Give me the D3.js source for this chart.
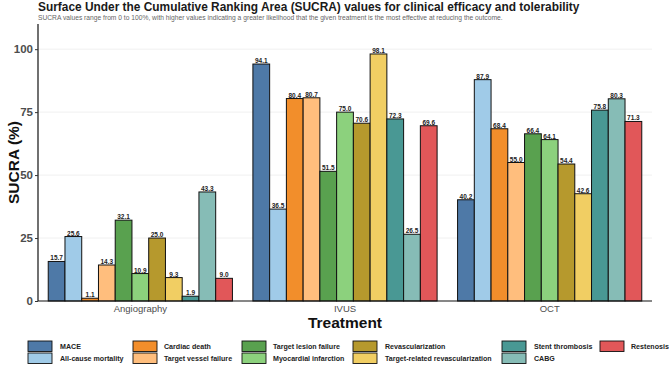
<!DOCTYPE html>
<html><head><meta charset="utf-8">
<script src="https://cdn.jsdelivr.net/npm/d3@7"></script>
<style>body{margin:0;background:#fff}svg{display:block;font-family:"Liberation Sans",Arial,sans-serif}</style>
</head><body><svg id="c" width="669" height="365"></svg>
<script>
const treatments = ["Angiography", "IVUS", "OCT"];
const outcomes = ["MACE", "All-cause mortality", "Cardiac death", "Target vessel failure", "Target lesion failure", "Myocardial infarction", "Revascularization", "Target-related revascularization", "Stent thrombosis", "CABG", "Restenosis"];
const angiography = [15.7, 25.6, 1.1, 14.3, 32.1, 10.9, 25.0, 9.3, 1.9, 43.3, 9.0];
const ivus = [94.1, 36.5, 80.4, 80.7, 51.5, 75.0, 70.6, 98.1, 72.3, 26.5, 69.6];
const oct = [40.2, 87.9, 68.4, 55.0, 66.4, 64.1, 54.4, 42.6, 75.8, 80.3, 71.3];
const colors = ["#4E79A7", "#A0CBE8", "#F28E2B", "#FFBE7D", "#59A14F", "#8CD17D", "#B6992D", "#F1CE63", "#499894", "#86BCB6", "#E15759"];
const yTicks = [0, 25, 50, 75, 100];

const values = {Angiography: angiography, IVUS: ivus, OCT: oct};
const svg = d3.select("#c");
const L = 38, R = 652, T = 24, B = 301;

const x0 = d3.scaleBand().domain(treatments).range([L, R]).paddingInner(0.1).paddingOuter(0.05);
const x1 = d3.scaleBand().domain(outcomes).range([0, x0.bandwidth()]).padding(0);
const y = d3.scaleLinear().domain([0, 110]).range([B, T]);
const color = d3.scaleOrdinal().domain(outcomes).range(colors);

// title
svg.append("text").attr("x", L).attr("y", 11).attr("font-size", 11.9).attr("font-weight", "bold").attr("fill", "#1a1a1a")
  .text("Surface Under the Cumulative Ranking Area (SUCRA) values for clinical efficacy and tolerability");
svg.append("text").attr("x", L).attr("y", 20).attr("font-size", 6.7).attr("fill", "#666")
  .text("SUCRA values range from 0 to 100%, with higher values indicating a greater likelihood that the given treatment is the most effective at reducing the outcome.");

// gridlines
svg.append("g").selectAll("line").data(yTicks.filter(d => d > 0)).join("line")
  .attr("x1", L).attr("x2", R).attr("y1", d => y(d)).attr("y2", d => y(d))
  .attr("stroke", "#ececec").attr("stroke-width", 0.8);

// bars
const rows = [];
treatments.forEach(t => outcomes.forEach((o, i) => rows.push({t, o, v: values[t][i]})));
const g = svg.append("g");
g.selectAll("rect").data(rows).join("rect")
  .attr("x", d => x0(d.t) + x1(d.o)).attr("width", x1.bandwidth())
  .attr("y", d => y(d.v)).attr("height", d => y(0) - y(d.v))
  .attr("fill", d => color(d.o)).attr("stroke", "#111").attr("stroke-width", 1);
g.selectAll("text").data(rows).join("text")
  .attr("x", d => x0(d.t) + x1(d.o) + x1.bandwidth() / 2).attr("y", d => y(d.v) - 1)
  .attr("text-anchor", "middle").attr("font-size", 6.5).attr("font-weight", "bold").attr("fill", "#222")
  .text(d => d.v.toFixed(1));

// y axis
const ya = svg.append("g").attr("transform", `translate(${L},0)`)
  .call(d3.axisLeft(y).tickValues(yTicks).tickSize(3).tickPadding(2));
ya.select(".domain").attr("d", `M0,${T}V${B}`).attr("stroke", "#111").attr("stroke-width", 1.2);
ya.selectAll(".tick line").attr("stroke", "#333");
ya.selectAll(".tick text").attr("font-size", 11.5).attr("font-weight", "bold").attr("fill", "#4d4d4d").attr("font-family", "Liberation Sans, Arial, sans-serif");

// x axis
const xa = svg.append("g").attr("transform", `translate(0,${B})`)
  .call(d3.axisBottom(x0).tickSize(0).tickPadding(4));
xa.select(".domain").attr("d", `M${L},0H${R}`).attr("stroke", "#111").attr("stroke-width", 1.2);
xa.selectAll(".tick text").attr("font-size", 9.5).attr("fill", "#4d4d4d").attr("font-family", "Liberation Sans, Arial, sans-serif");

// axis titles
svg.append("text").attr("x", (L + R) / 2).attr("y", 328).attr("text-anchor", "middle")
  .attr("font-size", 15.5).attr("font-weight", "bold").attr("fill", "#111").text("Treatment");
svg.append("text").attr("transform", `translate(19,${(T + B) / 2}) rotate(-90)`).attr("text-anchor", "middle")
  .attr("font-size", 15.5).attr("font-weight", "bold").attr("fill", "#111").text("SUCRA (%)");

// legend
const keyX = [28, 133, 242, 353, 502, 600];
const textX = [60, 164, 273, 385, 534, 631];
const lg = svg.append("g");
outcomes.forEach((o, i) => {
  const col = Math.floor(i / 2), row = i % 2;
  const ky = 341 + row * 12;
  lg.append("rect").attr("x", keyX[col]).attr("y", ky).attr("width", 24).attr("height", 10.5)
    .attr("fill", color(o)).attr("stroke", "#111").attr("stroke-width", 0.9);
  lg.append("text").attr("x", textX[col]).attr("y", ky + 7.8).attr("font-size", 7.1).attr("font-weight", "bold")
    .attr("fill", "#222").text(o);
});
</script></body></html>
